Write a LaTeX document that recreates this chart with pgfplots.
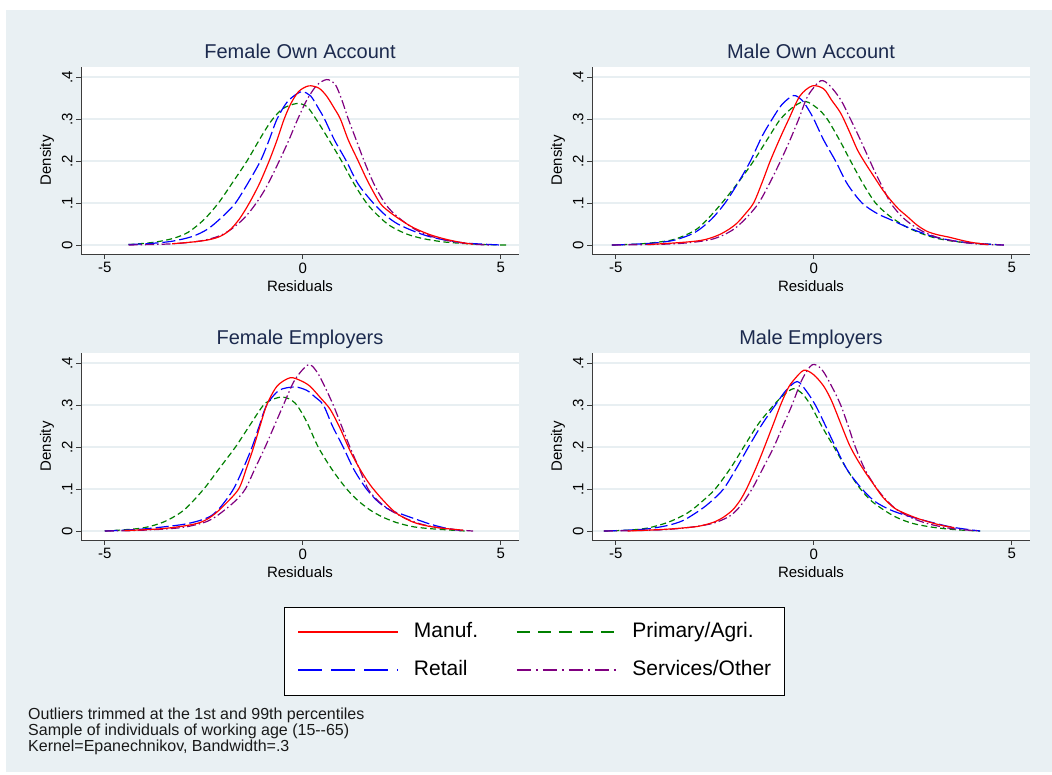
\documentclass[border=0pt]{standalone}
\usepackage{fontspec}
\setmainfont{Liberation Sans}
\usepackage{pgfplots}
\pgfplotsset{compat=1.18}

\definecolor{bgcol}{RGB}{233,240,243}
\definecolor{gridcol}{RGB}{232,239,242}
\definecolor{axisgray}{RGB}{60,60,60}
\definecolor{titlenavy}{RGB}{28,42,78}
\definecolor{manufred}{RGB}{255,0,0}
\definecolor{primgreen}{RGB}{0,128,0}
\definecolor{retailblue}{RGB}{0,0,255}
\definecolor{servpurple}{RGB}{128,0,128}

\pgfplotsset{
  panel/.style={
    anchor=south west, scale only axis, width=438pt, height=187pt,
    xmin=-5.6, xmax=5.46, ymin=-0.0214, ymax=0.424,
    axis x line=bottom, axis y line=left,
    axis line style={draw=axisgray, line width=0.9pt, -},
    axis background/.style={fill=white},
    xtick={-5,0,5}, xticklabels={-5,0,5},
    ytick={0,0.1,0.2,0.3,0.4}, yticklabels={0,.1,.2,.3,.4},
    tick align=outside, major tick length=5pt,
    major tick style={draw=axisgray, line width=0.9pt},
    ymajorgrids, grid style={draw=gridcol, line width=1.4pt},
    /pgf/number format/assume math mode=true,
    tick label style={font=\fontsize{15}{18}\selectfont, text=black},
    yticklabel style={rotate=90, anchor=south},
    xlabel={Residuals}, ylabel={Density},
    every axis x label/.style={at={(axis description cs:0.5,0)}, yshift=-32pt, anchor=center, font=\fontsize{15}{18}\selectfont},
    every axis y label/.style={at={(axis description cs:0,0.5)}, xshift=-34pt, rotate=90, anchor=center, font=\fontsize{15}{18}\selectfont},
    every axis title/.style={at={(axis description cs:0.5,1)}, anchor=base, yshift=8.5pt, font=\fontsize{20}{24}\selectfont, text=titlenavy},
  },
  manuf/.style={color=manufred, line width=1.2pt, smooth, tension=0.5, no markers},
  prim/.style={color=primgreen, line width=1.2pt, smooth, tension=0.5, no markers, dash pattern=on 6pt off 3.5pt},
  retail/.style={color=retailblue, line width=1.2pt, smooth, tension=0.5, no markers, dash pattern=on 13pt off 4pt},
  serv/.style={color=servpurple, line width=1.2pt, smooth, tension=0.5, no markers, dash pattern=on 9pt off 3pt on 1.5pt off 3pt},
}

\begin{document}
\begin{tikzpicture}[x=1pt,y=1pt]
\fill[white] (0,0) rectangle (1052,774);
\fill[bgcol] (6,2) rectangle (1052,764);

% Female own-account workers
\begin{axis}[panel, at={(81pt,520pt)}, title={Female Own Account}]
\addplot[prim] coordinates {(-4.4,0.001) (-3.8,0.006) (-3.3,0.015) (-2.9,0.03) (-2.5,0.06) (-2.13,0.10) (-1.8,0.145) (-1.41,0.20) (-1.1,0.25) (-0.8,0.295) (-0.5,0.325) (-0.15,0.337) (0.1,0.33) (0.3,0.305) (0.6,0.26) (0.98,0.20) (1.3,0.145) (1.61,0.10) (1.9,0.07) (2.2,0.046) (2.6,0.027) (3.0,0.016) (3.5,0.008) (4.0,0.004) (4.6,0.001) (5.2,0.0)};
\addplot[retail] coordinates {(-4.4,0.001) (-3.8,0.004) (-3.3,0.009) (-2.8,0.02) (-2.4,0.038) (-2.0,0.07) (-1.7,0.10) (-1.4,0.145) (-1.07,0.20) (-0.85,0.25) (-0.65,0.30) (-0.4,0.34) (-0.15,0.36) (0.0,0.365) (0.2,0.355) (0.4,0.325) (0.55,0.30) (0.8,0.25) (1.1,0.20) (1.4,0.145) (1.78,0.10) (2.1,0.07) (2.4,0.05) (2.8,0.033) (3.2,0.02) (3.7,0.01) (4.2,0.004) (5.0,0.0)};
\addplot[serv] coordinates {(-4.4,0.0) (-3.5,0.002) (-3.0,0.005) (-2.5,0.011) (-2.1,0.022) (-1.8,0.038) (-1.5,0.062) (-1.25,0.09) (-1.0,0.125) (-0.8,0.16) (-0.57,0.205) (-0.35,0.25) (-0.15,0.295) (0.1,0.345) (0.35,0.38) (0.6,0.394) (0.8,0.385) (0.95,0.355) (1.15,0.30) (1.35,0.25) (1.55,0.20) (1.8,0.145) (2.07,0.10) (2.3,0.075) (2.6,0.052) (2.9,0.034) (3.3,0.019) (3.8,0.008) (4.3,0.002) (4.7,0.0)};
\addplot[manuf] coordinates {(-3.3,0.003) (-2.8,0.007) (-2.4,0.012) (-2.1,0.02) (-1.85,0.035) (-1.6,0.062) (-1.35,0.10) (-1.1,0.145) (-0.85,0.20) (-0.65,0.25) (-0.47,0.30) (-0.3,0.337) (-0.1,0.366) (0.15,0.379) (0.4,0.374) (0.6,0.355) (0.8,0.325) (0.95,0.30) (1.15,0.25) (1.4,0.20) (1.65,0.15) (1.95,0.10) (2.2,0.078) (2.5,0.058) (2.8,0.041) (3.2,0.025) (3.6,0.014) (4.0,0.006) (4.3,0.002)};
\end{axis}

% Male own-account workers
\begin{axis}[panel, at={(592pt,520pt)}, title={Male Own Account}]
\addplot[prim] coordinates {(-5.1,0.0) (-4.5,0.002) (-4.0,0.006) (-3.5,0.014) (-3.0,0.035) (-2.7,0.06) (-2.32,0.10) (-1.9,0.15) (-1.52,0.20) (-1.15,0.255) (-0.84,0.30) (-0.5,0.33) (-0.21,0.342) (0.1,0.325) (0.34,0.30) (0.65,0.25) (0.93,0.20) (1.25,0.145) (1.56,0.10) (1.9,0.07) (2.3,0.045) (2.7,0.028) (3.1,0.016) (3.6,0.008) (4.2,0.003) (4.8,0.0)};
\addplot[retail] coordinates {(-5.1,0.0) (-4.5,0.002) (-4.0,0.005) (-3.5,0.012) (-3.0,0.03) (-2.6,0.06) (-2.24,0.10) (-1.9,0.15) (-1.6,0.20) (-1.3,0.26) (-1.05,0.30) (-0.8,0.335) (-0.51,0.356) (-0.3,0.345) (-0.15,0.325) (0.0,0.30) (0.25,0.25) (0.55,0.20) (0.85,0.145) (1.22,0.10) (1.6,0.075) (1.95,0.06) (2.3,0.045) (2.7,0.03) (3.1,0.018) (3.6,0.009) (4.1,0.004) (4.8,0.0)};
\addplot[serv] coordinates {(-5.1,0.0) (-4.2,0.001) (-3.5,0.003) (-3.0,0.007) (-2.6,0.013) (-2.3,0.023) (-2.0,0.039) (-1.7,0.065) (-1.39,0.10) (-1.1,0.15) (-0.84,0.20) (-0.6,0.25) (-0.38,0.30) (-0.15,0.355) (0.17,0.391) (0.4,0.38) (0.68,0.346) (0.9,0.305) (1.1,0.266) (1.3,0.225) (1.52,0.179) (1.75,0.135) (1.94,0.10) (2.2,0.07) (2.45,0.05) (2.8,0.03) (3.2,0.016) (3.7,0.007) (4.2,0.002) (4.8,0.0)};
\addplot[manuf] coordinates {(-4.2,0.001) (-3.5,0.005) (-3.0,0.009) (-2.7,0.014) (-2.4,0.024) (-2.15,0.037) (-1.94,0.052) (-1.75,0.072) (-1.52,0.10) (-1.3,0.15) (-1.1,0.20) (-0.85,0.255) (-0.63,0.30) (-0.35,0.355) (-0.04,0.379) (0.25,0.372) (0.45,0.345) (0.68,0.314) (0.9,0.27) (1.1,0.227) (1.3,0.195) (1.52,0.163) (1.75,0.13) (1.94,0.107) (2.15,0.085) (2.36,0.068) (2.6,0.048) (2.85,0.033) (3.1,0.025) (3.4,0.019) (3.7,0.012) (4.0,0.006) (4.4,0.001)};
\end{axis}

% Female employers
\begin{axis}[panel, at={(81pt,234pt)}, title={Female Employers}]
\addplot[prim] coordinates {(-5.0,0.0) (-4.5,0.003) (-4.0,0.008) (-3.5,0.022) (-3.0,0.05) (-2.5,0.10) (-2.1,0.15) (-1.7,0.20) (-1.35,0.25) (-0.99,0.30) (-0.75,0.314) (-0.53,0.319) (-0.35,0.315) (-0.15,0.30) (0.1,0.26) (0.39,0.20) (0.75,0.145) (1.11,0.10) (1.4,0.072) (1.7,0.05) (2.0,0.034) (2.37,0.02) (2.8,0.01) (3.3,0.005) (4.1,0.0)};
\addplot[retail] coordinates {(-5.0,0.0) (-4.5,0.002) (-4.0,0.005) (-3.5,0.01) (-3.0,0.016) (-2.6,0.025) (-2.3,0.037) (-2.05,0.06) (-1.75,0.10) (-1.5,0.15) (-1.28,0.20) (-1.1,0.25) (-0.91,0.30) (-0.6,0.335) (-0.2,0.343) (0.1,0.335) (0.3,0.32) (0.52,0.30) (0.75,0.25) (1.02,0.20) (1.3,0.145) (1.61,0.10) (1.9,0.07) (2.2,0.05) (2.5,0.04) (2.8,0.03) (3.2,0.017) (3.6,0.007) (4.0,0.001)};
\addplot[serv] coordinates {(-5.0,0.0) (-4.3,0.001) (-3.6,0.004) (-3.0,0.009) (-2.5,0.02) (-2.25,0.031) (-2.0,0.048) (-1.7,0.072) (-1.45,0.10) (-1.2,0.15) (-0.95,0.20) (-0.72,0.25) (-0.49,0.30) (-0.2,0.36) (0.14,0.396) (0.35,0.38) (0.55,0.345) (0.77,0.30) (0.98,0.25) (1.19,0.20) (1.42,0.15) (1.65,0.10) (1.9,0.072) (2.2,0.05) (2.6,0.03) (3.0,0.016) (3.5,0.007) (4.0,0.002) (4.3,0.0)};
\addplot[manuf] coordinates {(-4.5,0.001) (-4.0,0.003) (-3.5,0.006) (-3.0,0.012) (-2.6,0.02) (-2.3,0.035) (-2.0,0.06) (-1.62,0.10) (-1.42,0.15) (-1.24,0.20) (-1.08,0.25) (-0.91,0.30) (-0.65,0.345) (-0.32,0.365) (-0.05,0.358) (0.18,0.345) (0.44,0.318) (0.69,0.29) (0.94,0.245) (1.19,0.192) (1.44,0.148) (1.70,0.11) (2.03,0.073) (2.37,0.042) (2.79,0.021) (3.2,0.011) (3.6,0.006) (4.05,0.002)};
\end{axis}

% Male employers
\begin{axis}[panel, at={(592pt,234pt)}, title={Male Employers}]
\addplot[prim] coordinates {(-5.3,0.0) (-4.7,0.002) (-4.2,0.007) (-3.7,0.02) (-3.3,0.037) (-3.08,0.05) (-2.8,0.072) (-2.49,0.10) (-2.1,0.15) (-1.77,0.20) (-1.4,0.255) (-1.01,0.30) (-0.75,0.325) (-0.51,0.339) (-0.3,0.328) (-0.08,0.30) (0.2,0.25) (0.51,0.20) (0.85,0.145) (1.18,0.10) (1.45,0.072) (1.77,0.05) (2.1,0.032) (2.5,0.018) (3.0,0.009) (3.6,0.003) (4.2,0.0)};
\addplot[retail] coordinates {(-5.3,0.0) (-4.7,0.002) (-4.2,0.005) (-3.7,0.013) (-3.3,0.025) (-2.87,0.05) (-2.6,0.07) (-2.28,0.10) (-1.95,0.15) (-1.65,0.20) (-1.3,0.255) (-0.97,0.30) (-0.7,0.335) (-0.42,0.356) (-0.2,0.335) (0.04,0.30) (0.3,0.25) (0.55,0.20) (0.85,0.145) (1.22,0.10) (1.55,0.07) (1.94,0.05) (2.3,0.038) (2.6,0.03) (3.0,0.02) (3.5,0.009) (4.2,0.0)};
\addplot[serv] coordinates {(-5.3,0.0) (-4.5,0.001) (-3.8,0.003) (-3.2,0.008) (-2.7,0.015) (-2.4,0.023) (-2.1,0.037) (-1.85,0.06) (-1.56,0.10) (-1.28,0.15) (-1.01,0.20) (-0.78,0.25) (-0.55,0.30) (-0.3,0.36) (-0.04,0.396) (0.2,0.385) (0.45,0.345) (0.68,0.30) (0.87,0.25) (1.05,0.20) (1.3,0.145) (1.6,0.10) (1.85,0.072) (2.11,0.05) (2.5,0.03) (2.9,0.017) (3.4,0.007) (3.9,0.002) (4.2,0.0)};
\addplot[manuf] coordinates {(-4.7,0.0) (-4.2,0.002) (-3.6,0.005) (-3.0,0.01) (-2.74,0.015) (-2.5,0.022) (-2.28,0.033) (-2.05,0.05) (-1.86,0.073) (-1.7,0.10) (-1.52,0.137) (-1.35,0.175) (-1.18,0.216) (-1.0,0.26) (-0.84,0.30) (-0.65,0.34) (-0.51,0.359) (-0.25,0.383) (0.0,0.372) (0.25,0.345) (0.45,0.31) (0.68,0.256) (0.9,0.205) (1.1,0.17) (1.3,0.14) (1.52,0.11) (1.75,0.08) (2.03,0.055) (2.3,0.042) (2.62,0.03) (3.0,0.019) (3.3,0.012) (3.55,0.008)};
\end{axis}

% Shared legend
\begin{axis}[anchor=south west, at={(282pt,79pt)}, scale only axis, width=505pt, height=88pt,
  hide axis, xmin=0, xmax=1, ymin=0, ymax=1,
  legend columns=2, legend cell align=left,
  legend style={at={(0.5,0.5)}, anchor=center, draw=black, line width=0.8pt, fill=white,
    inner xsep=13pt, inner ysep=14.5pt, font=\fontsize{21}{25}\selectfont, row sep=17pt,
    nodes={inner xsep=0pt, inner ysep=0pt, text height=16pt, text depth=5pt},
    /tikz/every odd column/.append style={column sep=15pt},
    /tikz/every even column/.append style={column sep=38pt}},
  legend image code/.code={\draw[#1] (0pt,0pt) -- (100pt,0pt);}]
\addlegendimage{manufred, line width=1.2pt, solid}
\addlegendentry{Manuf.}
\addlegendimage{primgreen, line width=1.2pt, dash pattern=on 13pt off 8pt}
\addlegendentry{Primary/Agri.}
\addlegendimage{retailblue, line width=1.2pt, dash pattern=on 24pt off 9pt}
\addlegendentry{Retail}
\addlegendimage{servpurple, line width=1.2pt, dash pattern=on 14pt off 5pt on 2pt off 5pt}
\addlegendentry{Services/Other}
\end{axis}

% Notes
\node[anchor=base west, font=\fontsize{16}{16}\selectfont, text=black!90, inner sep=0pt] at (28,55) {Outliers trimmed at the 1st and 99th percentiles};
\node[anchor=base west, font=\fontsize{16}{16}\selectfont, text=black!90, inner sep=0pt] at (28,39) {Sample of individuals of working age (15-{}-65)};
\node[anchor=base west, font=\fontsize{16}{16}\selectfont, text=black!90, inner sep=0pt] at (28,23) {Kernel=Epanechnikov, Bandwidth=.3};
\end{tikzpicture}
\end{document}
